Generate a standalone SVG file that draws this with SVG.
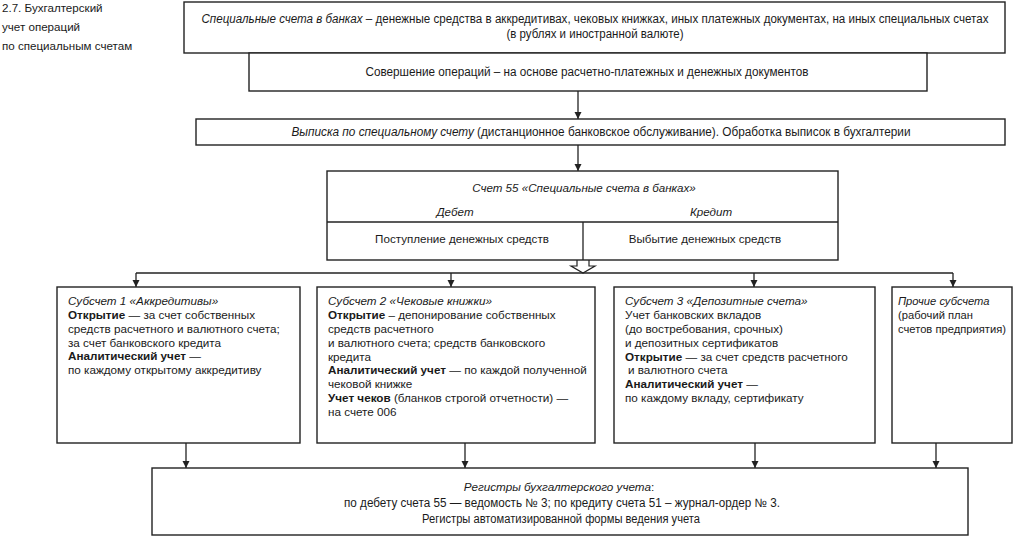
<svg xmlns="http://www.w3.org/2000/svg" width="1014" height="537" viewBox="0 0 1014 537">
<defs>
<style>
.box{fill:#fff;stroke:#222;stroke-width:1.4}
.ln{fill:none;stroke:#222;stroke-width:1.3}
text{font-family:"Liberation Sans",Arial,sans-serif;fill:#1a1a1a;font-size:11.7px}
.c{text-anchor:middle}
.i{font-style:italic}
.b{font-weight:bold}
.big{font-size:12px}
.acc{font-size:11.6px}
.cap{font-size:11.6px}
.sm{font-size:11.2px}
</style>
<marker id="ah" viewBox="0 0 10 10" refX="10" refY="5" markerWidth="7" markerHeight="8" markerUnits="userSpaceOnUse" orient="auto">
<path d="M0,0 L10,5 L0,10 Z" fill="#222"/>
</marker>
</defs>

<g id="caption">
<text class="cap" x="2" y="12">2.7. Бухгалтерский</text>
<text class="cap" x="2" y="31">учет операций</text>
<text class="cap" x="2" y="50">по специальным счетам</text>
</g>

<g id="connectors">
<line class="ln" x1="578" y1="91" x2="578" y2="119" marker-end="url(#ah)"/>
<line class="ln" x1="578" y1="145" x2="578" y2="171" marker-end="url(#ah)"/>
<path d="M577,260 V266 H571 L583,273 L595,266 H589 V260" fill="#fff" stroke="#222" stroke-width="1.2"/>
<line class="ln" x1="136" y1="273" x2="953" y2="273"/>
<line class="ln" x1="136" y1="273" x2="136" y2="287" marker-end="url(#ah)"/>
<line class="ln" x1="451" y1="273" x2="451" y2="287" marker-end="url(#ah)"/>
<line class="ln" x1="754" y1="273" x2="754" y2="287" marker-end="url(#ah)"/>
<line class="ln" x1="953" y1="273" x2="953" y2="287" marker-end="url(#ah)"/>
<line class="ln" x1="186" y1="443" x2="186" y2="468" marker-end="url(#ah)"/>
<line class="ln" x1="465" y1="443" x2="465" y2="468" marker-end="url(#ah)"/>
<line class="ln" x1="755" y1="443" x2="755" y2="468" marker-end="url(#ah)"/>
<line class="ln" x1="936" y1="443" x2="936" y2="468" marker-end="url(#ah)"/>
</g>

<g id="n-top">
<rect class="box" x="184" y="2" width="821" height="51"/>
<text class="c big" x="595" y="23" textLength="787" lengthAdjust="spacingAndGlyphs"><tspan class="i">Специальные счета в банках</tspan> – денежные средства в аккредитивах, чековых книжках, иных платежных документах, на иных специальных счетах</text>
<text class="c big" x="595" y="38" textLength="177" lengthAdjust="spacingAndGlyphs">(в рублях и иностранной валюте)</text>
</g>

<g id="n-ops">
<rect class="box" x="249" y="53" width="678" height="38"/>
<text class="c big" x="587" y="76" textLength="443" lengthAdjust="spacingAndGlyphs">Совершение операций – на основе расчетно-платежных и денежных документов</text>
</g>

<g id="n-statement">
<rect class="box" x="196" y="119" width="809" height="26"/>
<text class="c big" x="601" y="136" textLength="619" lengthAdjust="spacingAndGlyphs"><tspan class="i">Выписка по специальному счету</tspan> (дистанционное банковское обслуживание). Обработка выписок в бухгалтерии</text>
</g>

<g id="n-account">
<rect class="box" x="327" y="171" width="511" height="89"/>
<line class="ln" x1="327" y1="222" x2="838" y2="222"/>
<line class="ln" x1="583" y1="222" x2="583" y2="260"/>
<text class="c i acc" x="584" y="192">Счет 55 «Специальные счета в банках»</text>
<text class="c i acc" x="455" y="216">Дебет</text>
<text class="c i acc" x="711" y="216">Кредит</text>
<text class="c acc" x="462" y="243">Поступление денежных средств</text>
<text class="c acc" x="705" y="243">Выбытие денежных средств</text>
</g>

<g id="n-sub1">
<rect class="box" x="57" y="287" width="243" height="156"/>
<text x="68" y="305" class="i">Субсчет 1 «Аккредитивы»</text>
<text x="68" y="319"><tspan class="b">Открытие</tspan> — за счет собственных</text>
<text x="68" y="333">средств расчетного и валютного счета;</text>
<text x="68" y="347">за счет банковского кредита</text>
<text x="68" y="360" class="b">Аналитический учет <tspan font-weight="normal">—</tspan></text>
<text x="68" y="374">по каждому открытому аккредитиву</text>
</g>

<g id="n-sub2">
<rect class="box" x="317" y="287" width="278" height="156"/>
<text x="328" y="305" class="i">Субсчет 2 «Чековые книжки»</text>
<text x="328" y="319"><tspan class="b">Открытие</tspan> – депонирование собственных</text>
<text x="328" y="333">средств расчетного</text>
<text x="328" y="347">и валютного счета; средств банковского</text>
<text x="328" y="361">кредита</text>
<text x="328" y="374"><tspan class="b">Аналитический учет</tspan> — по каждой полученной</text>
<text x="328" y="388">чековой книжке</text>
<text x="328" y="402"><tspan class="b">Учет чеков</tspan> (бланков строгой отчетности) —</text>
<text x="328" y="416">на счете 006</text>
</g>

<g id="n-sub3">
<rect class="box" x="614" y="287" width="261" height="156"/>
<text x="625" y="305" class="i">Субсчет 3 «Депозитные счета»</text>
<text x="625" y="319">Учет банковских вкладов</text>
<text x="625" y="333">(до востребования, срочных)</text>
<text x="625" y="347">и депозитных сертификатов</text>
<text x="625" y="361"><tspan class="b">Открытие</tspan> — за счет средств расчетного</text>
<text x="628" y="374">и валютного счета</text>
<text x="625" y="388" class="b">Аналитический учет <tspan font-weight="normal">—</tspan></text>
<text x="625" y="402">по каждому вкладу, сертификату</text>
</g>

<g id="n-sub4">
<rect class="box" x="892" y="287" width="120" height="156"/>
<text x="898" y="305" class="i sm">Прочие субсчета</text>
<text x="898" y="319" class="sm">(рабочий план</text>
<text x="898" y="333" class="sm">счетов предприятия)</text>
</g>

<g id="n-registers">
<rect class="box" x="152" y="468" width="816" height="67"/>
<text class="c" x="559" y="491" font-size="11.2"><tspan class="i">Регистры бухгалтерского учета</tspan>:</text>
<text class="c big" x="562" y="507" textLength="436" lengthAdjust="spacingAndGlyphs">по дебету счета 55 — ведомость № 3; по кредиту счета 51 – журнал-ордер № 3.</text>
<text class="c big" x="561" y="523" textLength="278" lengthAdjust="spacingAndGlyphs">Регистры автоматизированной формы ведения учета</text>
</g>
</svg>
